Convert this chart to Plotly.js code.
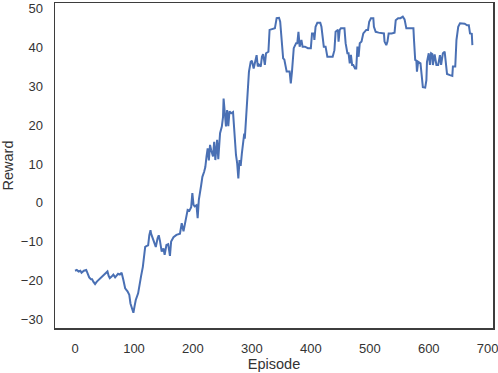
<!DOCTYPE html>
<html>
<head>
<meta charset="utf-8">
<script src="https://cdn.plot.ly/plotly-3.0.1.min.js"></script>
<style>html,body{margin:0;padding:0;background:#fff;}#chart{width:498px;height:373px;}</style>
</head>
<body>
<div id="chart"></div>
<script>
const episodes = [0,3,6,9,11,15,19,21,24,27,29,31,34,37,41,45,49,52,55,57,59,62,65,68,71,73,76,79,82,85,89,92,94,97,99,101,103,107,110,112,115,117,119,121,124,126,128,129,132,134,137,140,142,144,147,150,152,155,158,161,163,167,172,178,181,184,188,191,194,197,199,201,203,206,208,210,214,216,219,221,223,225,227,229,231,234,236,238,241,243,245,246,249,251,252,254,256,258,260,262,265,268,270,273,275,277,279,281,283,285,287,288,290,292,294,295,298,300,303,305,308,310,312,315,317,319,322,324,328,330,333,339,342,346,348,350,353,355,359,364,366,368,371,375,377,379,381,384,386,390,395,400,402,405,406,408,411,416,418,422,425,428,431,434,437,440,442,446,447,449,451,457,459,462,464,466,468,470,472,475,477,479,481,483,486,489,491,494,497,499,502,506,507,510,515,520,524,525,528,530,532,537,542,544,548,552,556,559,562,567,572,574,575,577,579,580,582,586,588,590,594,596,597,600,602,604,606,607,610,613,616,619,621,624,627,629,631,636,640,641,645,647,650,653,657,661,665,668,670,673,674];
const rewards = [-17.4,-17.2,-17.6,-17.4,-17.9,-17.4,-17.2,-18.0,-19.1,-19.6,-19.6,-20.2,-20.8,-20.2,-19.6,-19.1,-18.6,-18.0,-17.6,-18.7,-19.3,-18.9,-18.4,-19.1,-18.4,-18.2,-18.4,-17.9,-19.8,-21.9,-22.7,-23.6,-25.8,-27.7,-28.2,-26.5,-24.9,-23.2,-21.1,-18.8,-16.4,-14.0,-11.3,-11.1,-10.9,-8.3,-7.0,-7.9,-9.1,-9.7,-11.3,-9.1,-8.3,-9.7,-12.5,-11.7,-13.3,-10.8,-10.6,-13.6,-9.9,-8.8,-8.2,-7.9,-5.2,-7.3,-4.4,-1.8,-2.0,-1.1,2.5,-0.5,-0.9,-0.6,-3.9,0.8,4.6,6.7,8.0,9.2,11.9,14.0,10.9,14.9,13.5,11.9,15.7,11.0,16.2,11.2,15.7,17.9,19.6,22.0,26.8,23.5,19.6,23.8,19.7,23.5,23.0,23.3,17.9,12.3,10.2,6.3,11.0,9.5,12.7,16.2,17.8,16.5,21.3,24.7,29.8,33.7,36.2,36.5,34.5,36.2,37.9,35.0,35.5,35.0,37.5,38.2,35.4,38.4,38.8,44.4,44.5,44.8,47.4,47.5,46.5,42.2,37.1,36.8,33.7,33.7,30.7,33.7,39.7,41.0,41.0,43.9,40.1,41.8,40.1,40.1,39.7,39.7,43.5,43.5,41.8,45.2,46.2,46.2,45.2,40.1,40.1,37.5,37.5,37.6,37.5,39.2,43.9,44.4,41.4,44.4,44.8,44.8,41.0,38.4,38.4,35.8,38.0,35.4,35.4,34.5,34.5,40.1,37.5,41.0,41.4,43.5,43.9,44.4,44.4,46.5,47.4,47.4,45.2,43.9,43.7,43.5,43.5,41.4,40.5,41.4,43.5,43.5,43.7,46.9,47.4,47.4,47.8,47.1,44.8,44.8,44.8,44.8,41.8,36.7,36.5,33.7,36.2,35.8,32.8,29.7,29.6,31.5,36.2,38.4,35.4,38.4,38.2,35.4,38.1,35.4,35.4,37.9,35.4,38.4,38.8,35.8,33.1,32.8,32.6,35.0,35.0,41.8,45.2,46.1,46.1,46.0,45.6,45.6,43.5,43.4,40.5];
const xTicks = [0,100,200,300,400,500,600,700];
const yTicks = [-30,-20,-10,0,10,20,30,40,50];

const trace = {
  x: episodes, y: rewards, type: 'scatter', mode: 'lines',
  line: {color: '#4a70b4', width: 2}, hoverinfo: 'skip'
};
const axisCommon = {
  showgrid: false, zeroline: false, showline: true, mirror: true,
  linecolor: '#3d3d3d', linewidth: 1.5, ticks: '',
  tickfont: {family: 'Liberation Sans, Arial, sans-serif', size: 13, color: '#333'},
  ticklabelstandoff: 8, ticklabeloverflow: 'allow'
};
const layout = {
  width: 498, height: 373,
  margin: {l: 55, r: 5, t: 3, b: 45},
  paper_bgcolor: '#fff', plot_bgcolor: '#fff',
  showlegend: false,
  font: {family: 'Liberation Sans, Arial, sans-serif', color: '#333'},
  xaxis: Object.assign({}, axisCommon, {
    range: [-34, 709], tickmode: 'array', tickvals: xTicks, ticktext: xTicks.map(String),
    title: {text: 'Episode', font: {size: 14.5, color: '#333'}, standoff: 4}
  }),
  yaxis: Object.assign({}, axisCommon, {
    range: [-32.1, 51.3], tickmode: 'array', tickvals: yTicks, ticktext: yTicks.map(v => v < 0 ? '\u2212' + Math.abs(v) : String(v)),
    title: {text: 'Reward', font: {size: 14.5, color: '#333'}, standoff: 8}
  })
};
Plotly.newPlot('chart', [trace], layout, {displayModeBar: false, staticPlot: true});
</script>
</body>
</html>
